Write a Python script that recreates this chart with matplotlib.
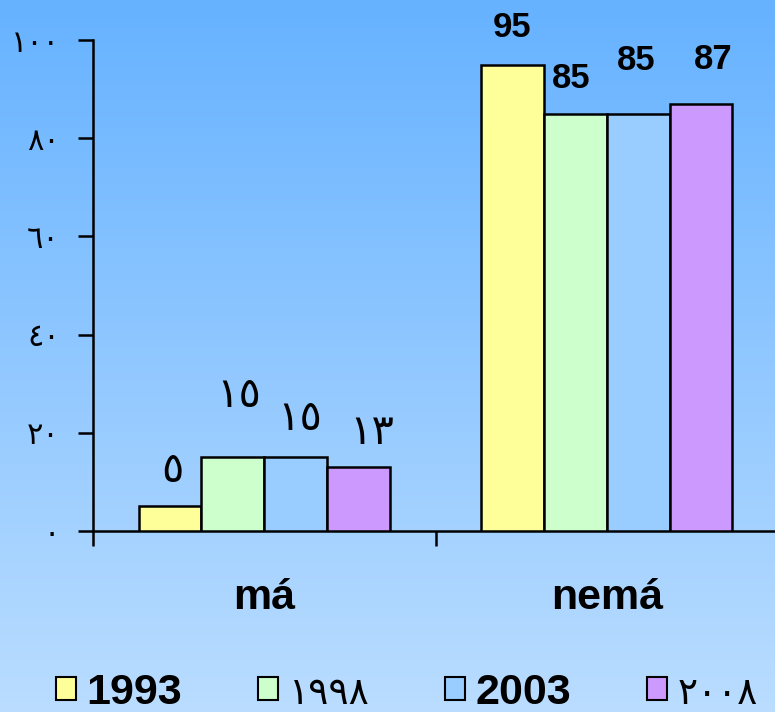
import numpy as np
import matplotlib.pyplot as plt
from matplotlib.patches import Patch
from matplotlib.font_manager import FontProperties

# data
categories = ['má', 'nemá']
years = ['1993', '١٩٩٨', '2003', '٢٠٠٨']
v1993 = [5, 95]
v1998 = [15, 85]
v2003 = [15, 85]
v2008 = [13, 87]
labels_ma = ['٥', '١٥', '١٥', '١٣']
labels_nema = ['95', '85', '85', '87']
yticks = [0, 20, 40, 60, 80, 100]
ytick_labels = ['٠', '٢٠', '٤٠', '٦٠', '٨٠', '١٠٠']

colors = ['#FFFF99', '#CCFFCC', '#99CCFF', '#CC99FF']
series = [v1993, v1998, v2003, v2008]

# label offsets in pixels (dx, dy above bar top)
offs_ma = [(2, 36), (6, 62), (4, 39), (13, 35)]
offs_nema = [(-1, 37), (-4, 35), (-2, 53), (12, 44)]

fig = plt.figure(figsize=(7.75, 7.12), dpi=100)

# gradient background
bg = fig.add_axes([0, 0, 1, 1], zorder=-1)
top = np.array([0x66, 0xB2, 0xFF]) / 255
bot = np.array([0xBA, 0xDD, 0xFF]) / 255
t = np.linspace(0, 1, 256)[:, None]
grad = (top * (1 - t) + bot * t)[:, None, :]
bg.imshow(grad, aspect='auto', extent=[0, 1, 0, 1])
bg.axis('off')

ax = fig.add_axes([93 / 775, 1 - 531 / 712, 685 / 775, 491 / 712])
ax.patch.set_alpha(0)

x = np.arange(len(categories))
w = 0.1833
arabic = FontProperties(family='DejaVu Sans', size=30)
bold = FontProperties(family='Liberation Sans', weight='bold', size=25)

bars_all = []
for i, vals in enumerate(series):
    bars = ax.bar(x + (i - 1.5) * w, vals, w, color=colors[i],
                  edgecolor='black', linewidth=1.8, zorder=3)
    bars_all.append(bars)

for i, bars in enumerate(bars_all):
    b0, b1 = bars[0], bars[1]
    dx, dy = offs_ma[i]
    ax.annotate(labels_ma[i], (b0.get_x() + b0.get_width() / 2, b0.get_height()),
                xytext=(dx, dy), textcoords='offset pixels', ha='center', va='center',
                fontproperties=arabic, annotation_clip=False)
    dx, dy = offs_nema[i]
    ax.annotate(labels_nema[i], (b1.get_x() + b1.get_width() / 2, b1.get_height()),
                xytext=(dx, dy), textcoords='offset pixels', ha='center', va='center',
                fontproperties=bold, annotation_clip=False)

ax.set_xlim(-0.5, 1.5)
ax.set_ylim(0, 100)
ax.spines['top'].set_visible(False)
ax.spines['right'].set_visible(False)
ax.spines['left'].set_linewidth(1.8)
ax.spines['bottom'].set_linewidth(1.8)

ax.set_yticks(yticks)
ax.set_yticklabels(ytick_labels, fontproperties=FontProperties(family='DejaVu Sans', size=22))
ax.tick_params(axis='y', direction='out', length=11, width=1.8, pad=13)

ax.set_xticks([-0.5, 0.5, 1.5])
ax.set_xticklabels([])
ax.tick_params(axis='x', which='major', direction='out', length=11, width=1.8)
ax.set_xticks(x, minor=True)
ax.set_xticklabels(categories, minor=True, fontproperties=FontProperties(
    family='Liberation Sans', weight='bold', size=31))
ax.tick_params(axis='x', which='minor', length=0, pad=34)

handles = [Patch(facecolor=c, edgecolor='black', linewidth=1.5) for c in colors]
leg = fig.legend(handles, years, loc='center', bbox_to_anchor=(0.525, 0.027), ncol=4,
                 frameon=False, prop=FontProperties(family='Liberation Sans', weight='bold', size=31),
                 handlelength=0.47, handleheight=0.47, handletextpad=0.25,
                 columnspacing=1.75, borderaxespad=0)
for i, txt in enumerate(leg.get_texts()):
    if i in (1, 3):
        txt.set_fontproperties(FontProperties(family='DejaVu Sans', size=27))

fig.savefig('out.png', dpi=100)
